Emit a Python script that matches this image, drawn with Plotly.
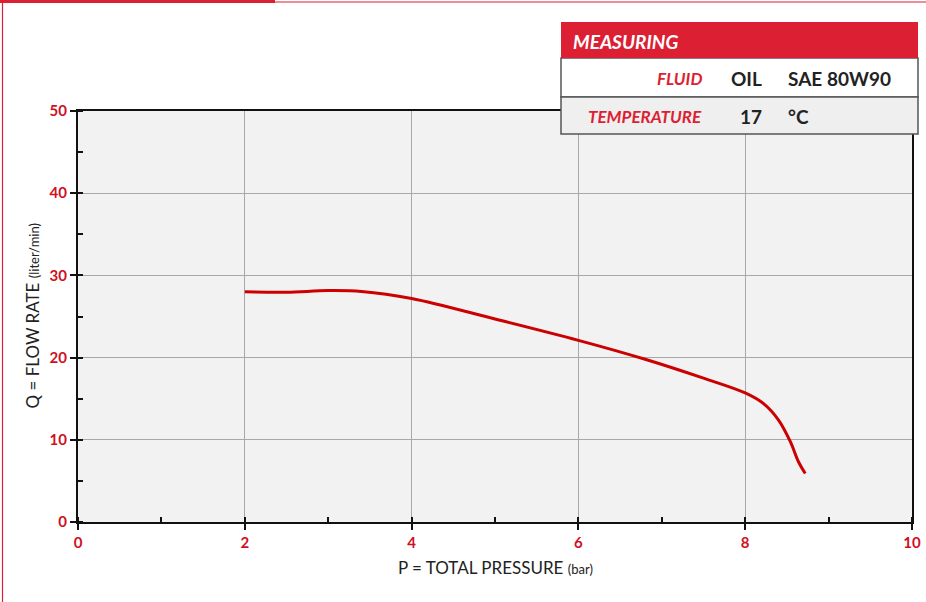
import plotly.graph_objects as go

# Data
pressure = [2.0, 2.5, 3.0, 3.4, 4.0, 5.0, 6.0, 6.8, 7.5, 8.0, 8.22, 8.4, 8.54, 8.64, 8.72]
flow     = [28.0, 27.95, 28.15, 28.05, 27.2, 24.7, 22.1, 19.8, 17.5, 15.7, 14.4, 12.4, 9.8, 7.3, 5.9]

x_ticks = [0, 2, 4, 6, 8, 10]
y_ticks = [0, 10, 20, 30, 40, 50]

table_header = "MEASURING"
table_rows = [("FLUID", "OIL", "SAE 80W90"), ("TEMPERATURE", "17", "°C")]

W, H = 926, 602
L, R, T, B = 78, 912, 111, 522
RED = "#dc1f33"
TICK_RED = "#d0101e"
FONT = "Lato"


def px(x):
    return (x - L) / (R - L)


def py(y):
    return (B - y) / (B - T)


fig = go.Figure()
fig.add_trace(go.Scatter(
    x=pressure, y=flow, mode="lines",
    line=dict(color="#cc0000", width=3, shape="spline", smoothing=1.0),
    hoverinfo="skip", showlegend=False,
))

shapes = []
# outer frame lines
shapes.append(dict(type="line", xref="paper", yref="paper", x0=px(2.5), x1=px(2.5), y0=py(2), y1=py(602),
                   line=dict(color=RED, width=1.2), layer="above"))
shapes.append(dict(type="line", xref="paper", yref="paper", x0=px(275), x1=px(926), y0=py(2), y1=py(2),
                   line=dict(color=RED, width=1.2), layer="above"))
shapes.append(dict(type="rect", xref="paper", yref="paper", x0=px(0), x1=px(275), y0=py(0), y1=py(3),
                   fillcolor=RED, line=dict(width=0), layer="above"))
# table
shapes.append(dict(type="rect", xref="paper", yref="paper", x0=px(561), x1=px(918), y0=py(58), y1=py(97),
                   fillcolor="white", line=dict(color="#555555", width=1.5), layer="above"))
shapes.append(dict(type="rect", xref="paper", yref="paper", x0=px(561), x1=px(918), y0=py(97), y1=py(134),
                   fillcolor="#efeff0", line=dict(color="#555555", width=1.5), layer="above"))
shapes.append(dict(type="rect", xref="paper", yref="paper", x0=px(561), x1=px(918), y0=py(22), y1=py(58),
                   fillcolor=RED, line=dict(width=0), layer="above"))

ann = []
ann.append(dict(text="<b><i>" + table_header + "</i></b>", xref="paper", yref="paper", x=px(571), y=py(41),
                xanchor="left", yanchor="middle", showarrow=False,
                font=dict(family=FONT, size=19, color="white")))
row_y = [78, 116]
for (lab, val, unit), yy in zip(table_rows, row_y):
    ann.append(dict(text="<b><i>" + lab + "</i></b>", xref="paper", yref="paper", x=px(704), y=py(yy),
                    xanchor="right", yanchor="middle", showarrow=False,
                    font=dict(family=FONT, size=17, color=RED)))
    ann.append(dict(text="<b>" + val + "</b>", xref="paper", yref="paper", x=px(764), y=py(yy),
                    xanchor="right", yanchor="middle", showarrow=False,
                    font=dict(family=FONT, size=19, color="#222222")))
    ann.append(dict(text="<b>" + unit + "</b>", xref="paper", yref="paper", x=px(786), y=py(yy),
                    xanchor="left", yanchor="middle", showarrow=False,
                    font=dict(family=FONT, size=19, color="#222222")))

# axis titles
ann.append(dict(text="P = TOTAL PRESSURE <span style='font-size:13px'>(bar)</span>", xref="paper", yref="paper",
                x=0.5, y=py(567), xanchor="center", yanchor="middle", showarrow=False,
                font=dict(family=FONT, size=17, color="#222222")))
ann.append(dict(text="Q = FLOW RATE <span style='font-size:13px'>(liter/min)</span>", xref="paper", yref="paper",
                x=px(32), y=0.5, xanchor="center", yanchor="middle", showarrow=False, textangle=-90,
                font=dict(family=FONT, size=17, color="#222222")))

fig.update_layout(
    width=W, height=H, autosize=False,
    margin=dict(l=L, r=W - R, t=T, b=H - B),
    paper_bgcolor="white", plot_bgcolor="#f2f2f2",
    shapes=shapes, annotations=ann,
    font=dict(family=FONT),
)
fig.update_xaxes(
    range=[0, 10], tickvals=x_ticks, ticktext=[str(v) for v in x_ticks],
    showgrid=True, gridcolor="#a8a8a8", gridwidth=1,
    showline=True, linecolor="#111111", linewidth=2, mirror=True,
    ticks="outside", ticklen=6, tickwidth=2, tickcolor="#111111",
    minor=dict(dtick=1, ticks="inside", ticklen=5, tickwidth=1.5, tickcolor="#111111", showgrid=False),
    tickfont=dict(family=FONT, size=15, color=TICK_RED, weight="bold"),
    zeroline=False, fixedrange=True, automargin=False,
)
fig.update_yaxes(
    range=[0, 50], tickvals=y_ticks, ticktext=[str(v) for v in y_ticks],
    showgrid=True, gridcolor="#a8a8a8", gridwidth=1,
    showline=True, linecolor="#111111", linewidth=2, mirror=True,
    ticks="outside", ticklen=6, tickwidth=2, tickcolor="#111111",
    minor=dict(dtick=5, ticks="inside", ticklen=5, tickwidth=1.5, tickcolor="#111111", showgrid=False),
    tickfont=dict(family=FONT, size=15, color=TICK_RED, weight="bold"),
    zeroline=False, fixedrange=True, automargin=False,
)

fig.write_html("out.html", config=dict(displayModeBar=False, responsive=False),
               post_script="document.body.style.margin='0';document.body.style.overflow='hidden';")
